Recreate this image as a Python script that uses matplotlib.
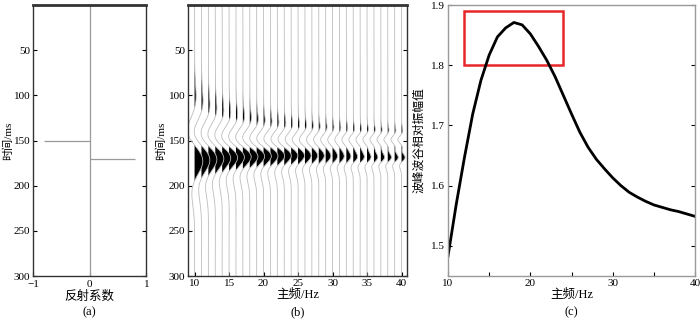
import numpy as np
import matplotlib
matplotlib.use('Agg')
import matplotlib.pyplot as plt
from matplotlib.patches import Rectangle
from matplotlib.ticker import MultipleLocator

plt.rcParams['font.family'] = ['Liberation Serif', 'Noto Sans CJK SC']
plt.rcParams['font.size'] = 9
plt.rcParams['axes.unicode_minus'] = True

# reflectivity model (panel a)
refl_times = [150, 170]
refl_amps = [-0.8, 0.8]

# dominant frequencies of the synthetic traces (panel b)
trace_freqs = list(range(10, 41))

# peak/trough relative amplitude vs dominant frequency (panel c)
ratio_freqs = list(range(10, 41))
ratio_vals = [1.483, 1.569, 1.647, 1.719, 1.775, 1.817, 1.847, 1.862, 1.871, 1.867,
              1.852, 1.831, 1.808, 1.781, 1.750, 1.719, 1.689, 1.664, 1.644, 1.628,
              1.613, 1.600, 1.589, 1.581, 1.574, 1.568, 1.564, 1.560, 1.557, 1.553,
              1.549]
box_x = [12, 24]
box_y = [1.80, 1.89]


def ricker(f, tau):
    a = (np.pi * f * tau) ** 2
    return (1 - 2 * a) * np.exp(-a)


def hilbert(x):
    n = len(x)
    X = np.fft.fft(x)
    h = np.zeros(n)
    h[0] = 1
    h[1:(n + 1) // 2] = 2
    if n % 2 == 0:
        h[n // 2] = 1
    return np.imag(np.fft.ifft(X * h))


def synthetic(f, t, phase=-0.4):
    tau = np.arange(-0.2, 0.2, 0.00025)
    r = ricker(f, tau)
    w = np.cos(phase) * r + np.sin(phase) * hilbert(r)
    s = np.zeros_like(t)
    for t0, a in zip(refl_times, refl_amps):
        s += a * np.interp((t - t0) / 1000.0, tau, w, left=0, right=0)
    return s


def style_box(ax, color='#333333', top_lw=2.0):
    for side in ['left', 'right', 'bottom']:
        ax.spines[side].set_color(color)
        ax.spines[side].set_linewidth(1.0)
    ax.spines['top'].set_color(color)
    ax.spines['top'].set_linewidth(top_lw)
    ax.tick_params(direction='in', top=False, right=True, length=3, width=0.8,
                   labelsize=8, pad=2)


fig = plt.figure(figsize=(7.0, 3.23), dpi=100)

# panel (a)
ax1 = fig.add_axes([0.047, 0.1455, 0.162, 0.839])
ax1.axvline(0, color='#9a9a9a', lw=0.9)
ax1.hlines(refl_times, 0, refl_amps, color='#9a9a9a', lw=0.9)
ax1.set_xlim(-1, 1)
ax1.set_ylim(300, 0)
ax1.set_xticks([-1, 0, 1])
ax1.set_yticks([50, 100, 150, 200, 250, 300])
ax1.set_ylabel('时间/ms', fontsize=8)
ax1.yaxis.set_label_coords(-0.17, 0.5)
ax1.set_xlabel('反射系数', labelpad=1)
style_box(ax1)
ax1.tick_params(axis='x', pad=3)
ax1.text(0.5, -0.133, '(a)', transform=ax1.transAxes, ha='center', va='center')

# panel (b)
ax2 = fig.add_axes([0.2686, 0.1455, 0.3129, 0.839])
t = np.arange(0, 300.25, 0.25)
for f in trace_freqs:
    s = synthetic(f, t)
    x = f + 1.3 * np.sqrt(10.0 / f) * s
    ax2.fill_betweenx(t, f, x, where=s > 0, color='black', lw=0, interpolate=True)
    ax2.plot(x, t, color='#bdbdbd', lw=0.6)
ax2.set_xlim(9.05, 40.8)
ax2.set_ylim(300, 0)
ax2.set_xticks([10, 15, 20, 25, 30, 35, 40])
ax2.set_yticks([50, 100, 150, 200, 250, 300])
ax2.set_ylabel('时间/ms', fontsize=8)
ax2.yaxis.set_label_coords(-0.1, 0.5)
ax2.set_xlabel('主频/Hz', labelpad=1)
style_box(ax2)
ax2.text(0.5, -0.133, '(b)', transform=ax2.transAxes, ha='center', va='center')

# panel (c)
ax3 = fig.add_axes([0.64, 0.1455, 0.353, 0.839])
ax3.plot(ratio_freqs, ratio_vals, color='black', lw=2.0)
ax3.add_patch(Rectangle((box_x[0], box_y[0]), box_x[1] - box_x[0], box_y[1] - box_y[0],
                        fill=False, edgecolor='#e8262a', lw=1.8))
ax3.set_xlim(10, 40)
ax3.set_ylim(1.45, 1.9)
ax3.xaxis.set_major_locator(MultipleLocator(10))
ax3.xaxis.set_minor_locator(MultipleLocator(5))
ax3.yaxis.set_major_locator(MultipleLocator(0.1))
ax3.set_ylabel('波峰波谷相对振幅值', fontsize=8.5)
ax3.yaxis.set_label_coords(-0.09, 0.5)
ax3.set_xlabel('主频/Hz', labelpad=1)
style_box(ax3, color='#999999', top_lw=1.0)
ax3.tick_params(which='minor', direction='in', length=3, width=0.8, right=True)
ax3.text(0.5, -0.133, '(c)', transform=ax3.transAxes, ha='center', va='center')

fig.savefig('out.png', dpi=100)
